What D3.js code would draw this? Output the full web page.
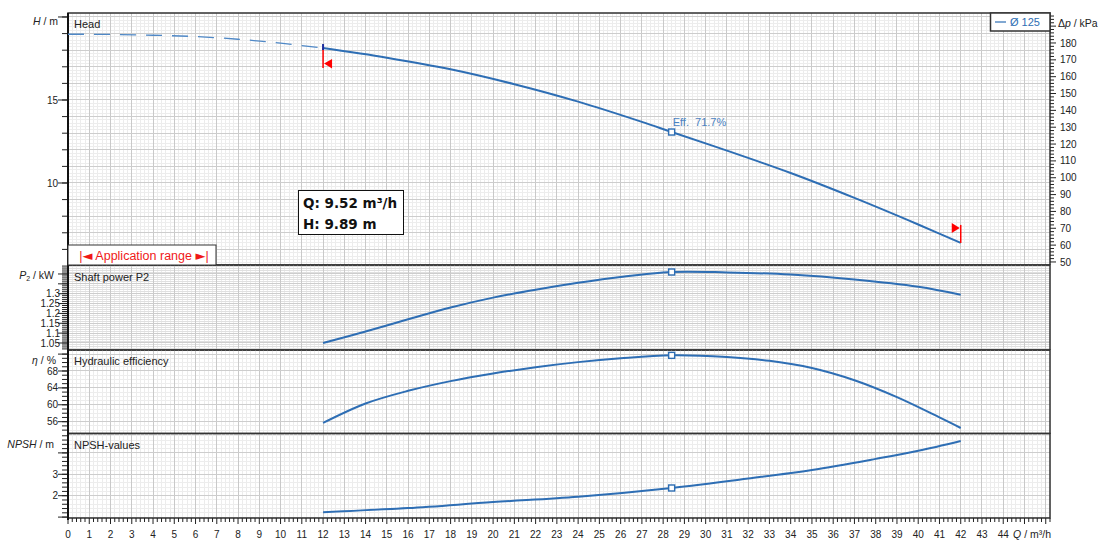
<!DOCTYPE html>
<html>
<head>
<meta charset="utf-8">
<script src="https://cdn.jsdelivr.net/npm/d3@7/dist/d3.min.js"></script>
<style>
body { margin: 0; background: #fff; }
text { font-family: "Liberation Sans", Arial, sans-serif; }
</style>
</head>
<body>
<div id="chart"></div>
<script>
/** Chart data **/
var headQ = [0, 2, 4, 6, 8, 10, 12, 15, 18, 21, 24, 27, 28.4, 31, 34, 37, 40, 42];
var headH = [18.96, 18.95, 18.9, 18.82, 18.66, 18.42, 18.13, 17.55, 16.85, 15.95, 14.9, 13.68, 13.07, 11.95, 10.6, 9.1, 7.5, 6.39];

var powerQ = [12, 14, 16, 18, 20, 22, 24, 26, 28.4, 31, 34, 37, 40, 42];
var powerP = [1.05, 1.108, 1.17, 1.23, 1.28, 1.32, 1.355, 1.385, 1.41, 1.408, 1.397, 1.372, 1.335, 1.295];

var effQ = [12, 14, 16, 18, 20, 22, 24, 26, 28.4, 31, 33, 35, 37, 39, 41, 42];
var effE = [55.7, 60.3, 63.3, 65.6, 67.4, 68.9, 70.1, 71.0, 71.7, 71.3, 70.4, 68.7, 65.8, 61.8, 57.0, 54.5];

var npshQ = [12, 16, 20, 24, 28.4, 32, 35, 38, 40, 42];
var npshN = [1.23, 1.42, 1.7, 1.95, 2.36, 2.8, 3.2, 3.72, 4.1, 4.56];

// duty point, application range ends
var dutyQ = 28.4;
var rangeStartQ = 12;
var rangeEndQ = 42;
var effText = "Eff.  71.7%";
var infoLines = ["Q: 9.52 m\u00b3/h", "H: 9.89 m"];
var legendText = "\u00d8 125";

// tick labels
var qTickLabels = d3.range(0, 45);
var headTickLabels = [10, 15];
var dpTickLabels = [50, 60, 70, 80, 90, 100, 110, 120, 130, 140, 150, 160, 170, 180];
var powerTickLabels = ["1.05", "1.1", "1.15", "1.2", "1.25", "1.3"];
var effTickLabels = [56, 60, 64, 68];
var npshTickLabels = [2, 3];

var blue = "#2e6eb4";
var W = 1106, H = 549;
var plotL = 68, plotR = 1050;

var svg = d3.select("#chart").append("svg")
	.attr("width", W)
	.attr("height", H);

var x = d3.scaleLinear().domain([0, 46.2]).range([plotL, plotR]);

// multiples of step inside a domain
function steps(lo, hi, step)
{
	var out = [];
	var s = Math.ceil(lo / step - 1e-6);
	var e = Math.floor(hi / step + 1e-6);
	for (var i = s; i <= e; i++)
	{
		out.push(+(i * step).toFixed(6));
	}
	return out;
}

var panels = [
	{ top: 13, bottom: 265, domain: [5.06, 20.24], gMinor: 0.2, gMajor: 1, tMinor: 1, tMajor: 5,
	  labels: headTickLabels, labelX: 58, name: "Head", nameY: 28, minorCol: "#ededed" },
	{ top: 265, bottom: 350, domain: [1.0145, 1.4455], gMinor: 0.01, gMajor: 0.05, tMinor: 0.01, tMajor: 0.05,
	  labels: powerTickLabels, labelX: 60, name: "Shaft power P2", nameY: 281, minorCol: "#e0e0e0" },
	{ top: 350, bottom: 433.5, domain: [53.2, 72.97], gMinor: 1, gMajor: 4, tMinor: 1, tMajor: 4,
	  labels: effTickLabels, labelX: 58, name: "Hydraulic efficiency", nameY: 365, minorCol: "#ededed" },
	{ top: 433.5, bottom: 518, domain: [0.958, 4.906], gMinor: 0.2, gMajor: 1, tMinor: 0.2, tMajor: 1,
	  labels: npshTickLabels, labelX: 58, name: "NPSH-values", nameY: 449, minorCol: "#ededed" }
];

panels.forEach(function(p)
{
	p.y = d3.scaleLinear().domain(p.domain).range([p.bottom, p.top]);
	drawPanel(p);
});

function drawPanel(p)
{
	var g = svg.append("g");
	var xs = x.domain();

	// minor grid
	steps(xs[0], xs[1], 0.2).forEach(function(q)
	{
		g.append("line").attr("x1", x(q)).attr("x2", x(q)).attr("y1", p.top).attr("y2", p.bottom)
			.attr("stroke", "#ececec").attr("shape-rendering", "crispEdges");
	});
	steps(p.domain[0], p.domain[1], p.gMinor).forEach(function(v)
	{
		g.append("line").attr("x1", plotL).attr("x2", plotR).attr("y1", p.y(v)).attr("y2", p.y(v))
			.attr("stroke", p.minorCol).attr("shape-rendering", "crispEdges");
	});
	// major grid
	steps(xs[0], xs[1], 1).forEach(function(q)
	{
		g.append("line").attr("x1", x(q)).attr("x2", x(q)).attr("y1", p.top).attr("y2", p.bottom)
			.attr("stroke", "#c9c9c9").attr("shape-rendering", "crispEdges");
	});
	steps(p.domain[0], p.domain[1], p.gMajor).forEach(function(v)
	{
		g.append("line").attr("x1", plotL).attr("x2", plotR).attr("y1", p.y(v)).attr("y2", p.y(v))
			.attr("stroke", "#cdcdcd").attr("shape-rendering", "crispEdges");
	});

	// left ticks
	steps(p.domain[0], p.domain[1], p.tMinor).forEach(function(v)
	{
		g.append("line").attr("x1", plotL - 6).attr("x2", plotL).attr("y1", p.y(v)).attr("y2", p.y(v))
			.attr("stroke", "#222");
	});
	steps(p.domain[0], p.domain[1], p.tMajor).forEach(function(v)
	{
		g.append("line").attr("x1", plotL - 10).attr("x2", plotL).attr("y1", p.y(v)).attr("y2", p.y(v))
			.attr("stroke", "#222");
	});
	p.labels.forEach(function(v)
	{
		g.append("text").attr("x", p.labelX).attr("y", p.y(+v)).attr("dy", "0.36em")
			.attr("text-anchor", "end").attr("font-size", 10).attr("fill", "#222")
			.text(v);
	});

	g.append("text").attr("x", 74).attr("y", p.nameY)
		.attr("font-size", 11).attr("fill", "#222").text(p.name);

	// panel frame
	g.append("rect").attr("x", plotL).attr("y", p.top)
		.attr("width", plotR - plotL).attr("height", p.bottom - p.top)
		.attr("fill", "none").attr("stroke", "#333").attr("stroke-width", 1.5);
}

var pHead = panels[0], pPow = panels[1], pEff = panels[2], pNpsh = panels[3];

// axis titles
function axisTitle(xp, yp, parts, anchor)
{
	var t = svg.append("text").attr("x", xp).attr("y", yp)
		.attr("font-size", 10.5).attr("fill", "#222").attr("text-anchor", anchor || "end");
	parts.forEach(function(pt)
	{
		var s = t.append("tspan").text(pt[0]);
		if (pt[1] == "i") s.attr("font-style", "italic");
		if (pt[1] == "sub") s.attr("font-size", 7).attr("dy", 2);
		if (pt[1] == "up") s.attr("dy", -2);
	});
}
axisTitle(58, 25, [["H", "i"], [" / m"]]);
axisTitle(54, 279, [["P", "i"], ["2", "sub"], [" / kW", "up"]]);
axisTitle(56, 364, [["\u03b7", "i"], [" / %"]]);
axisTitle(54, 448, [["NPSH", "i"], [" / m"]]);
axisTitle(1058, 27, [["\u0394"], ["p", "i"], [" / kPa"]], "start");

// right pressure axis on the head panel
var dp = d3.scaleLinear().domain([48.2, 197.8]).range([265, 13]);
steps(48.2, 197.8, 2).forEach(function(v)
{
	svg.append("line").attr("x1", plotR).attr("x2", plotR + (v % 10 == 0 ? 6 : 4))
		.attr("y1", dp(v)).attr("y2", dp(v)).attr("stroke", "#222");
});
dpTickLabels.forEach(function(v)
{
	svg.append("text").attr("x", 1060).attr("y", dp(v)).attr("dy", "0.36em")
		.attr("font-size", 10).attr("fill", "#222").text(v);
});

// bottom Q axis
var xAxisY = 518;
steps(0, 46.2, 0.2).forEach(function(q)
{
	var major = Math.abs(q - Math.round(q)) < 1e-6;
	svg.append("line").attr("x1", x(q)).attr("x2", x(q))
		.attr("y1", xAxisY).attr("y2", xAxisY + (major ? 6 : 4)).attr("stroke", "#222");
});
qTickLabels.forEach(function(q)
{
	svg.append("text").attr("x", x(q)).attr("y", 538).attr("text-anchor", "middle")
		.attr("font-size", 10).attr("fill", "#222").text(q);
});
axisTitle(1051, 538, [["Q", "i"], [" / m\u00b3/h"]]);

svg.append("line").attr("x1", plotL).attr("x2", plotL).attr("y1", 13).attr("y2", 520)
	.attr("stroke", "#111").attr("stroke-width", 2);

// curves
function curve(p, qs, vs)
{
	return qs.map(function(q, i) { return [x(q), p.y(vs[i])]; });
}
var line = d3.line().curve(d3.curveCatmullRom.alpha(0.5));

var headPts = curve(pHead, headQ, headH);
var iStart = headQ.indexOf(rangeStartQ);
svg.append("path").attr("d", line(headPts.slice(0, iStart + 1)))
	.attr("fill", "none").attr("stroke", "#4f88c6").attr("stroke-width", 1.3)
	.attr("stroke-dasharray", "16,10");
svg.append("path").attr("d", line(headPts.slice(iStart)))
	.attr("fill", "none").attr("stroke", blue).attr("stroke-width", 2);

[[pPow, powerQ, powerP], [pEff, effQ, effE], [pNpsh, npshQ, npshN]].forEach(function(c)
{
	svg.append("path").attr("d", line(curve(c[0], c[1], c[2])))
		.attr("fill", "none").attr("stroke", blue).attr("stroke-width", 2);
});

// duty point squares
var dutyVals = [
	[pHead, headH[headQ.indexOf(dutyQ)]],
	[pPow, powerP[powerQ.indexOf(dutyQ)]],
	[pEff, effE[effQ.indexOf(dutyQ)]],
	[pNpsh, npshN[npshQ.indexOf(dutyQ)]]
];
dutyVals.forEach(function(d)
{
	svg.append("rect").attr("x", x(dutyQ) - 3).attr("y", d[0].y(d[1]) - 3)
		.attr("width", 6).attr("height", 6)
		.attr("fill", "#fff").attr("stroke", blue).attr("stroke-width", 1.4);
});
svg.append("text").attr("x", x(dutyQ) + 1).attr("y", pHead.y(dutyVals[0][1]) - 6)
	.attr("font-size", 11).attr("fill", "#4a82c2").style("white-space", "pre").text(effText);

// application range markers
var xs0 = x(rangeStartQ), ys0 = pHead.y(headH[iStart]);
svg.append("line").attr("x1", xs0).attr("x2", xs0).attr("y1", ys0).attr("y2", ys0 + 20)
	.attr("stroke", "#f00").attr("stroke-width", 1.5);
svg.append("line").attr("x1", xs0).attr("x2", xs0).attr("y1", ys0 - 4).attr("y2", ys0 + 2)
	.attr("stroke", "#1c2c9c").attr("stroke-width", 2);
svg.append("path")
	.attr("d", "M" + (xs0 + 1) + "," + (ys0 + 15.5) + "L" + (xs0 + 9) + "," + (ys0 + 11) + "L" + (xs0 + 9) + "," + (ys0 + 20.5) + "Z")
	.attr("fill", "#f00");

var xe = x(rangeEndQ), ye = pHead.y(headH[headH.length - 1]);
svg.append("line").attr("x1", xe).attr("x2", xe).attr("y1", ye - 18).attr("y2", ye)
	.attr("stroke", "#f00").attr("stroke-width", 1.5);
svg.append("path")
	.attr("d", "M" + (xe - 1) + "," + (ye - 15) + "L" + (xe - 9) + "," + (ye - 20) + "L" + (xe - 9) + "," + (ye - 10) + "Z")
	.attr("fill", "#f00");

// application range box
svg.append("rect").attr("x", plotL).attr("y", 245).attr("width", 148).attr("height", 20)
	.attr("fill", "#fff").attr("stroke", "#333").attr("stroke-width", 1);
var appText = svg.append("text").attr("x", plotL + 76).attr("y", 259.5).attr("text-anchor", "middle")
	.attr("font-size", 12.5).attr("fill", "#f01818");
appText.append("tspan").text("|");
appText.append("tspan").style("font-family", "DejaVu Sans").attr("font-size", 13).text("\u25c4");
appText.append("tspan").text(" Application range ");
appText.append("tspan").style("font-family", "DejaVu Sans").attr("font-size", 13).text("\u25ba");
appText.append("tspan").text("|");

// info box
svg.append("rect").attr("x", 298.5).attr("y", 190.5).attr("width", 105).attr("height", 44)
	.attr("fill", "#fff").attr("stroke", "#111");
infoLines.forEach(function(s, i)
{
	svg.append("text").attr("x", 303).attr("y", 208 + i * 20.5)
		.style("font-family", "'DejaVu Sans', Verdana, sans-serif").attr("font-weight", "bold")
		.attr("font-size", 13.5).attr("fill", "#111").text(s);
});

// legend
svg.append("rect").attr("x", 990.5).attr("y", 13).attr("width", 59.5).attr("height", 18)
	.attr("fill", "#fff").attr("stroke", "#333").attr("stroke-width", 1.5);
svg.append("line").attr("x1", 995).attr("x2", 1006).attr("y1", 22).attr("y2", 22)
	.attr("stroke", blue).attr("stroke-width", 1.2);
svg.append("text").attr("x", 1010).attr("y", 26).attr("font-size", 11)
	.attr("fill", blue).text(legendText);
</script>
</body>
</html>
